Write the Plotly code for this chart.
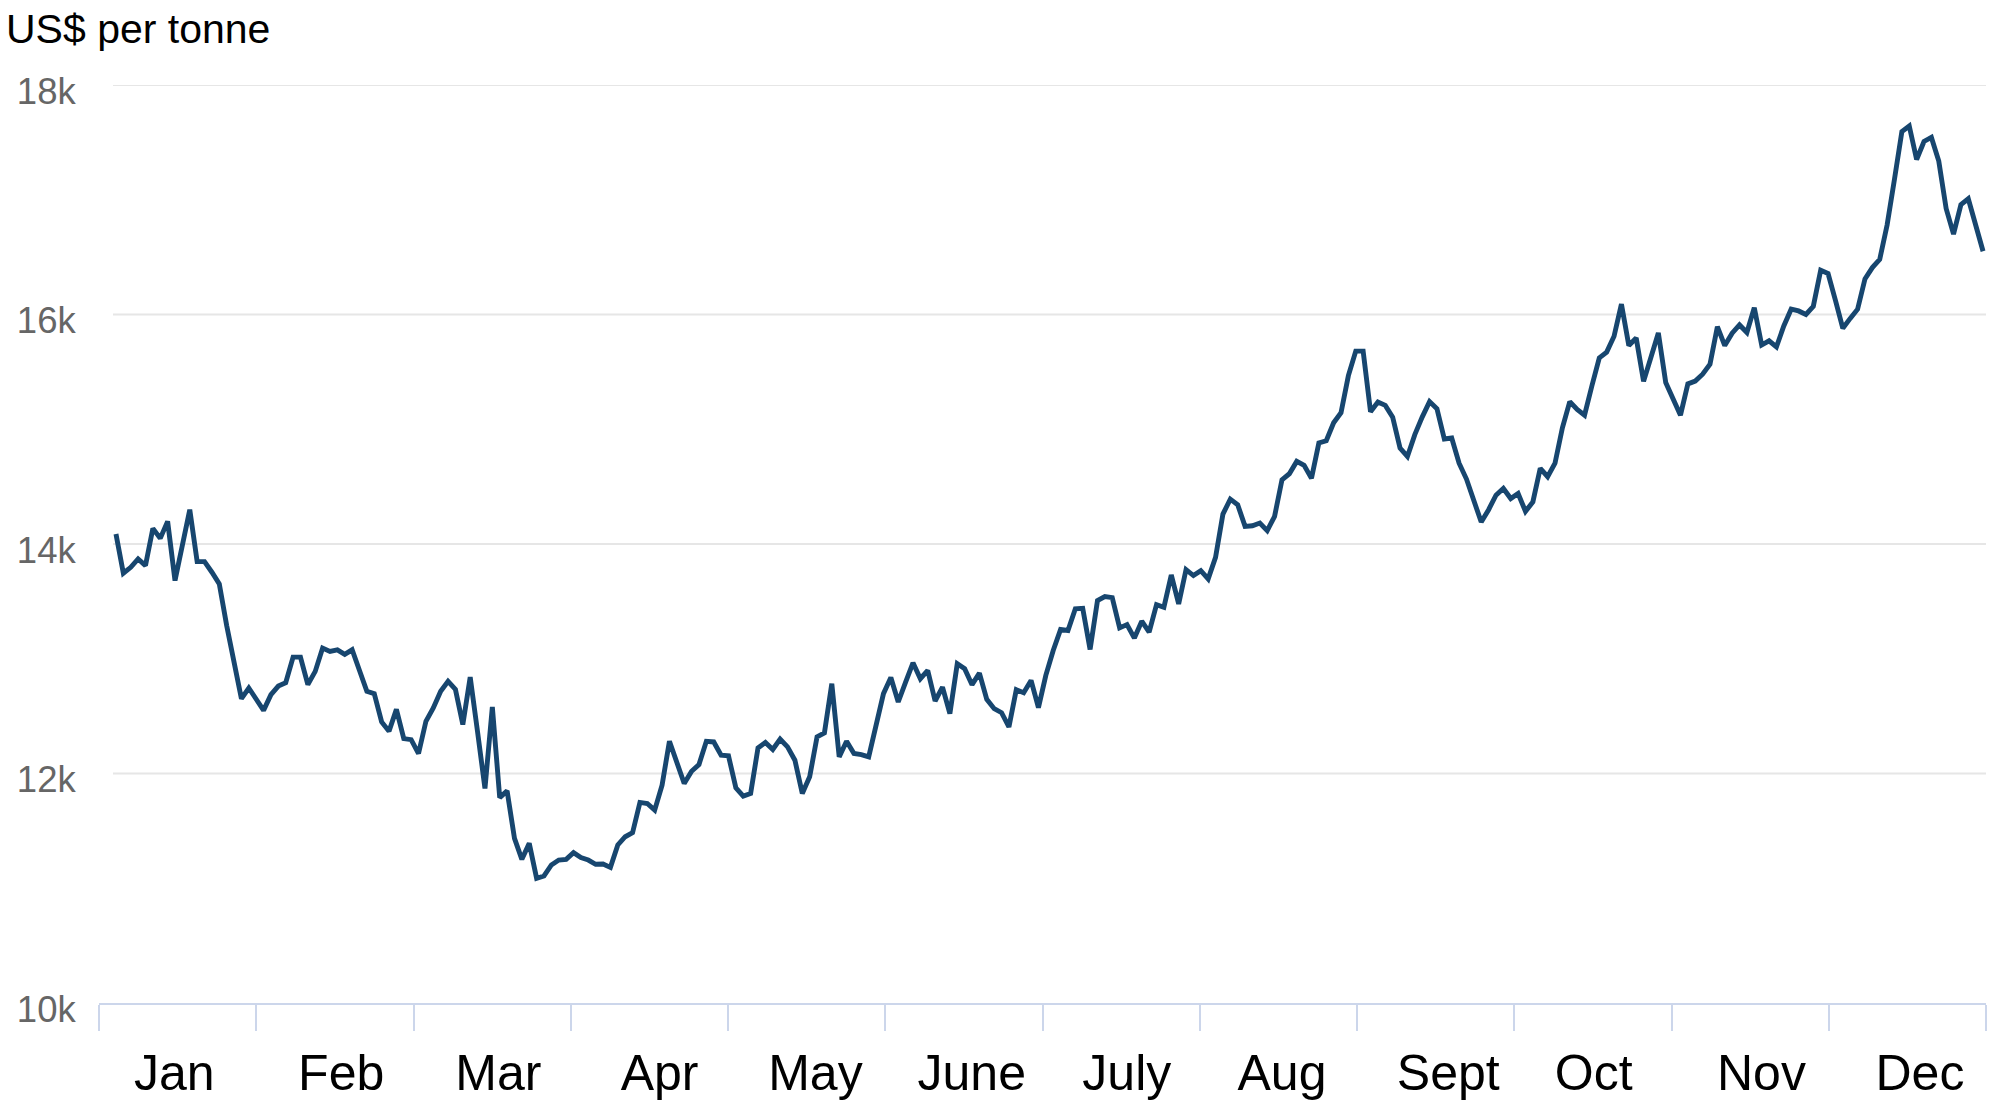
import plotly.graph_objects as go

# ---- data ----
MONTHS = ["Jan", "Feb", "Mar", "Apr", "May", "June", "July", "Aug", "Sept", "Oct", "Nov", "Dec"]
Y_TICKS = [10000, 12000, 14000, 16000, 18000]
Y_TICK_TEXT = ["10k", "12k", "14k", "16k", "18k"]
TITLE = "US$ per tonne"

# daily price, US$ per tonne, one value per trading day
PRICE = [
    14087, 13745, 13797, 13870, 13812, 14136, 14049, 14197, 13681, 13971,
    14299, 13846, 13846, 13754, 13652, 13290, 12985, 12652, 12745, 12646,
    12550, 12687, 12762, 12791, 13014, 13014, 12774, 12890, 13093, 13064,
    13078, 13038, 13078, 12898, 12716, 12695, 12449, 12368, 12559, 12304,
    12295, 12174, 12455, 12571, 12716, 12803, 12733, 12426, 12840, 12362,
    11870, 12580, 11790, 11848, 11435, 11252, 11391, 11087, 11107, 11203,
    11246, 11252, 11310, 11267, 11246, 11209, 11211, 11182, 11377, 11449,
    11484, 11748, 11739, 11681, 11899, 12281, 12101, 11913, 12020, 12078,
    12281, 12275, 12159, 12154, 11875, 11803, 11826, 12223, 12270, 12209,
    12299, 12232, 12116, 11826, 11971, 12319, 12354, 12783, 12145, 12281,
    12174, 12165, 12145, 12435, 12696, 12836, 12623, 12797, 12965, 12826,
    12898, 12632, 12753, 12521, 12956, 12913, 12774, 12875, 12646, 12565,
    12530, 12406, 12730, 12704, 12811, 12574, 12855, 13072, 13255, 13246,
    13435, 13440, 13081, 13507, 13542, 13533, 13269, 13298, 13180, 13327,
    13232, 13472, 13449, 13730, 13478, 13777, 13725, 13768, 13696, 13884,
    14261, 14391, 14342, 14154, 14159, 14183, 14116, 14241, 14560, 14612,
    14720, 14685, 14572, 14880, 14900, 15056, 15144, 15467, 15681, 15681,
    15153, 15238, 15208, 15106, 14836, 14763, 14953, 15106, 15241, 15179,
    14915, 14924, 14704, 14566, 14381, 14191, 14299, 14425, 14484, 14396,
    14440, 14284, 14367, 14660, 14587, 14704, 15012, 15241, 15173, 15123,
    15379, 15622, 15672, 15810, 16091, 15730, 15795, 15417, 15628, 15839,
    15408, 15261, 15123, 15395, 15420, 15480, 15566, 15894, 15729, 15837,
    15909, 15843, 16060, 15734, 15771, 15717, 15900, 16046, 16031, 16000,
    16071, 16386, 16357, 16123, 15880, 15966, 16046, 16309, 16409, 16480,
    16780, 17180, 17594, 17643, 17351, 17508, 17543, 17337, 16923, 16700,
    16957, 17009, 16766, 16551,
]
DAY = list(range(len(PRICE)))

# ---- styling / layout ----
W, H = 1991, 1111
ML, MT = 99, 85
MR = W - 1986
MB = H - 1003
FONT = "Liberation Sans, Arial, Helvetica, sans-serif"
LINE_COLOR = "#17466f"
AXIS_COLOR = "#ccd6eb"
GRID_COLOR = "#e6e6e6"

X0, X1 = -2.3, 253.4  # x range in trading-day units
span = X1 - X0
edges = [X0 + k * span / 12 for k in range(13)]
# where each month label sits inside its month band (fraction of the band)
LABEL_FRAC = [0.479, 0.54, 0.54, 0.565, 0.556, 0.55, 0.536, 0.523, 0.58, 0.505, 0.572, 0.58]
mids = [X0 + (k + f) * span / 12 for k, f in enumerate(LABEL_FRAC)]

fig = go.Figure()
fig.add_trace(go.Scatter(
    x=DAY, y=PRICE, mode="lines",
    line=dict(color=LINE_COLOR, width=4.9),
    hoverinfo="skip", showlegend=False,
))
# invisible trace on the label axis so it renders
fig.add_trace(go.Scatter(
    x=[X0, X1], y=[None, None], xaxis="x2", mode="lines",
    hoverinfo="skip", showlegend=False,
))

plot_w = W - ML - MR
shapes = []
for v in Y_TICKS[1:]:
    shapes.append(dict(type="line", xref="paper", yref="y",
                       x0=14 / plot_w, x1=1.0, y0=v, y1=v,
                       line=dict(color=GRID_COLOR, width=2), layer="below"))

fig.update_layout(
    width=W, height=H, autosize=False,
    margin=dict(l=ML, r=MR, t=MT, b=MB, pad=0),
    paper_bgcolor="white", plot_bgcolor="white",
    font=dict(family=FONT),
    title=dict(text=TITLE, x=6 / W, xref="container", xanchor="left",
               y=1 - 29 / H, yref="container", yanchor="middle",
               font=dict(size=41, color="#000000", family=FONT)),
    shapes=shapes,
    xaxis=dict(range=[X0, X1], tickmode="array", tickvals=edges,
               showticklabels=False, ticks="outside", ticklen=26,
               tickwidth=2, tickcolor=AXIS_COLOR,
               showline=True, linecolor=AXIS_COLOR, linewidth=2,
               showgrid=False, zeroline=False, fixedrange=True),
    xaxis2=dict(range=[X0, X1], overlaying="x", side="bottom", anchor="y",
                tickmode="array", tickvals=mids, ticktext=MONTHS,
                ticks="outside", ticklen=26, tickcolor="rgba(0,0,0,0)",
                tickfont=dict(size=50, color="#000000", family=FONT),
                showline=False, showgrid=False, zeroline=False, fixedrange=True),
    yaxis=dict(range=[10000, 18000], tickmode="array", tickvals=Y_TICKS,
               ticktext=Y_TICK_TEXT, ticks="outside", ticklen=15,
               tickcolor="rgba(0,0,0,0)", ticklabelshift=6,
               tickfont=dict(size=36.5, color="#666666", family=FONT),
               showgrid=False, zeroline=False, showline=False, fixedrange=True),
)

# remove the default page margin so the figure sits at the window's top-left
fig.write_html(
    "out.html",
    config={"displayModeBar": False},
    post_script="document.body.style.margin='0';"
                "document.documentElement.style.overflow='hidden';",
)
